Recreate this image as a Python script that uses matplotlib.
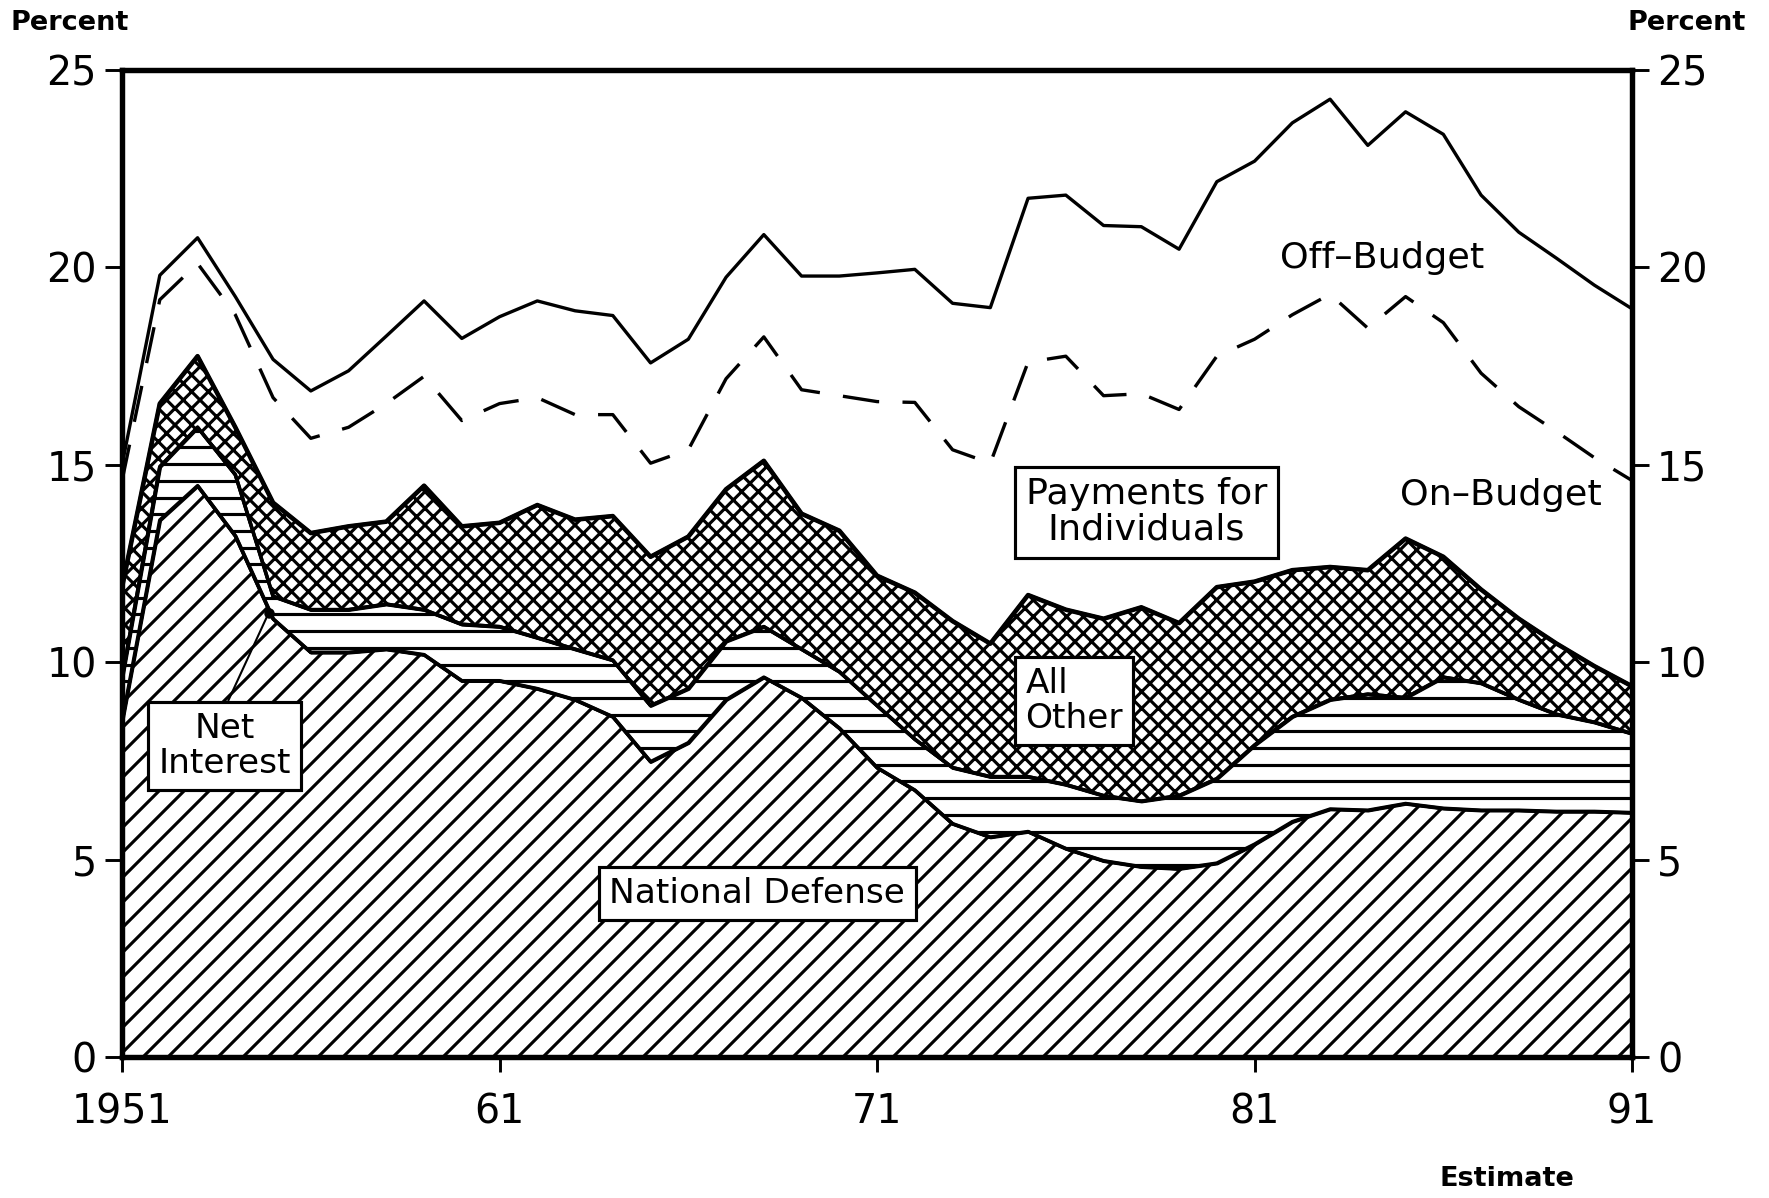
import numpy as np
import matplotlib
matplotlib.use("Agg")
import matplotlib.pyplot as plt
from matplotlib.collections import LineCollection

# ---------------- data (percent of GDP) ----------------
years = list(range(1951, 1992))

national_defense = [8.5, 13.6, 14.47, 13.2, 11.1, 10.25, 10.25, 10.33, 10.19, 9.53,
                    9.53, 9.33, 9.05, 8.62, 7.48, 7.96, 9.05, 9.62, 9.1, 8.33,
                    7.33, 6.76, 5.91, 5.57, 5.71, 5.28, 4.97, 4.82, 4.77, 4.91,
                    5.39, 5.96, 6.28, 6.25, 6.42, 6.3, 6.25, 6.25, 6.22, 6.22, 6.19]

net_interest = [1.1, 1.35, 1.48, 1.55, 0.57, 1.08, 1.08, 1.14, 1.14, 1.43,
                1.37, 1.29, 1.28, 1.43, 1.42, 1.37, 1.48, 1.28, 1.23, 1.43,
                1.57, 1.29, 1.42, 1.53, 1.39, 1.62, 1.65, 1.66, 1.85, 2.14,
                2.51, 2.66, 2.77, 2.94, 2.68, 3.32, 3.22, 2.8, 2.46, 2.26, 2.0]

all_other = [2.3, 1.6, 1.8, 1.2, 2.37, 1.94, 2.11, 2.09, 3.14, 2.48,
             2.63, 3.36, 3.28, 3.65, 3.77, 3.85, 3.85, 4.2, 3.43, 3.57,
             3.29, 3.71, 3.71, 3.37, 4.6, 4.43, 4.48, 4.91, 4.37, 4.85,
             4.14, 3.71, 3.36, 3.14, 4.03, 3.05, 2.37, 2.05, 1.79, 1.42, 1.2]

payments_for_individuals = [2.7, 2.63, 2.35, 2.85, 2.66, 2.4, 2.51, 2.99, 2.77, 2.68,
                            3.02, 2.72, 2.66, 2.57, 2.37, 2.2, 2.8, 3.14, 3.14, 3.42,
                            4.41, 4.82, 4.34, 4.57, 5.9, 6.42, 5.65, 5.41, 5.41, 5.85,
                            6.14, 6.47, 6.91, 6.13, 6.13, 5.93, 5.48, 5.37, 5.37, 5.28, 5.21]

off_budget = [0.4, 0.62, 0.65, 0.46, 0.97, 1.2, 1.43, 1.71, 1.91, 2.08,
              2.2, 2.45, 2.63, 2.51, 2.54, 2.8, 2.57, 2.59, 2.88, 3.03,
              3.26, 3.37, 3.71, 3.94, 4.15, 4.08, 4.31, 4.23, 4.06, 4.42,
              4.51, 4.86, 4.94, 4.63, 4.68, 4.77, 4.51, 4.42, 4.39, 4.37, 4.35]

x_tick_years = [1951, 1961, 1971, 1981, 1991]
x_tick_labels = ["1951", "61", "71", "81", "91"]
y_ticks = [0, 5, 10, 15, 20, 25]

# ---------------- figure ----------------
DPI = 150
plt.rcParams["font.family"] = ["DejaVu Sans"]
plt.rcParams["hatch.linewidth"] = 1.5
plt.rcParams["hatch.color"] = "black"

fig = plt.figure(figsize=(1769 / DPI, 1198 / DPI), dpi=DPI)
ax = fig.add_axes([0.0690, 0.1177, 0.8536, 0.8239])

x = np.array(years, dtype=float)
s1 = np.array(national_defense)
s2 = s1 + np.array(net_interest)
s3 = s2 + np.array(all_other)
s4 = s3 + np.array(payments_for_individuals)   # on-budget total
s5 = s4 + np.array(off_budget)                   # total

edge_lw = 1.7
ax.fill_between(x, 0, s1, facecolor="white", edgecolor="black", hatch="//",
                linewidth=edge_lw, zorder=2)
ni = ax.fill_between(x, s1, s2, facecolor="white", edgecolor="black",
                     linewidth=edge_lw, zorder=2)
# horizontal-line hatching for Net Interest (pattern spacing in axes fraction)
ax_h_px = 0.8239 * 1198
step = 16.7 / ax_h_px
rows = np.arange(step / 2, 1.0, step)
segs = [[(0.0, r), (1.0, r)] for r in rows]
lc = LineCollection(segs, colors="black", linewidths=1.5, transform=ax.transAxes, zorder=2.2)
ax.add_collection(lc, autolim=False)
lc.set_clip_path(ni.get_paths()[0], ax.transData)

ax.fill_between(x, s2, s3, facecolor="white", edgecolor="black", hatch="xxx",
                linewidth=edge_lw, zorder=2.4)
ax.plot(x, s1, color="black", lw=edge_lw, zorder=2.5)
ax.plot(x, s2, color="black", lw=edge_lw, zorder=2.5)
ax.plot(x, s3, color="black", lw=2.2, zorder=3)
ax.plot(x, s4, color="black", lw=1.6, dashes=(11, 7), zorder=3)
ax.plot(x, s5, color="black", lw=1.6, zorder=3)

ax.set_xlim(1951, 1991)
ax.set_ylim(0, 25)
ax.set_xticks(x_tick_years)
ax.set_xticklabels(x_tick_labels)
ax.set_yticks(y_ticks)
ax.set_yticklabels([str(v) for v in y_ticks])

for sp in ax.spines.values():
    sp.set_linewidth(2.6)
    sp.set_zorder(6)
ax.tick_params(axis="y", which="both", left=True, right=True, labelleft=True,
               labelright=True, direction="out", length=8, width=1.4,
               labelsize=19, pad=4)
ax.tick_params(axis="x", direction="out", length=7, width=1.4, labelsize=19, pad=10)

box = dict(boxstyle="square,pad=0.3", facecolor="white", edgecolor="black", linewidth=1.5)
fs = 16.5
ax.text(1953.72, 7.88, "Net\nInterest", ha="center", va="center", fontsize=fs,
        multialignment="center", bbox=box, zorder=5, linespacing=1.05)
ax.text(1967.83, 4.14, "National Defense", ha="center", va="center", fontsize=fs,
        bbox=box, zorder=5)
ax.text(1976.22, 9.02, "All\nOther", ha="center", va="center", fontsize=fs,
        multialignment="left", bbox=box, zorder=5, linespacing=1.05)
ax.text(1978.13, 13.8, "Payments for\nIndividuals", ha="center", va="center", fontsize=17.5,
        multialignment="center", bbox=box, zorder=5, linespacing=1.05)
ax.text(1984.39, 20.23, "Off\u2013Budget", ha="center", va="center", fontsize=17.5, zorder=5)
ax.text(1987.53, 14.24, "On\u2013Budget", ha="center", va="center", fontsize=17.5, zorder=5)

# leader line for Net Interest label
ax.plot([1953.82, 1954.88], [9.04, 11.24], color="black", lw=1.0, zorder=4)
ax.plot([1954.88], [11.24], marker="o", ms=4, color="black", zorder=4)

fig.text(70 / 1769, 1 - 23 / 1198, "Percent", ha="center", va="center",
         fontsize=13, fontweight="bold")
fig.text(1687 / 1769, 1 - 23 / 1198, "Percent", ha="center", va="center",
         fontsize=13, fontweight="bold")
fig.text(1507 / 1769, 1 - 1179 / 1198, "Estimate", ha="center", va="center",
         fontsize=13, fontweight="bold")

fig.savefig("out.png", dpi=DPI, facecolor="white")
